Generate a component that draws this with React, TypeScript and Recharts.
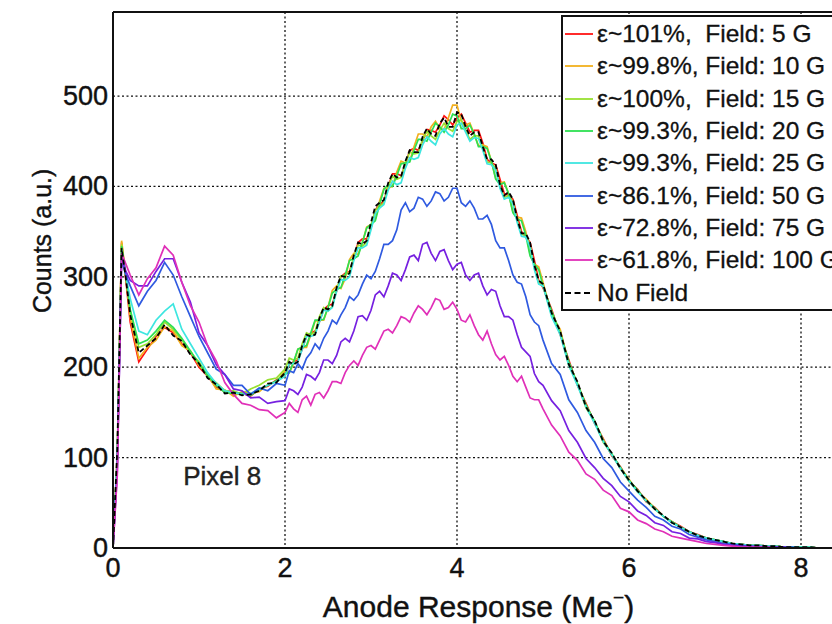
import React from 'react';
import { LineChart, Line, XAxis, YAxis, CartesianGrid, Legend, ReferenceDot, ReferenceLine, Label } from 'recharts';

const FONT = "'Liberation Sans', Arial, Helvetica, sans-serif";

// Anode response (Me-), main sampling
const xs = [
  0, 0.05, 0.1, 0.15, 0.2, 0.3, 0.4, 0.5, 0.6, 0.7,
  0.8, 0.9, 1.0, 1.1, 1.2, 1.3, 1.4, 1.5, 1.6, 1.7,
  1.8, 1.9, 2.0, 2.1, 2.2, 2.3, 2.4, 2.5, 2.6, 2.7,
  2.8, 2.9, 3.0, 3.1, 3.2, 3.3, 3.4, 3.5, 3.6, 3.7,
  3.8, 3.9, 4.0, 4.1, 4.2, 4.3, 4.4, 4.5, 4.6, 4.7,
  4.8, 4.9, 5.0, 5.1, 5.2, 5.3, 5.4, 5.5, 5.6, 5.7,
  5.8, 5.9, 6.0, 6.1, 6.2, 6.3, 6.4, 6.5, 6.6, 6.7,
  6.8, 6.9, 7.0, 7.1, 7.2, 7.3, 7.4, 7.5, 7.6, 7.7,
  7.8, 7.9, 8.0, 8.1, 8.2, 8.3, 8.4, 8.5,
];

// extra in-between samples across the main peak
const xsMid = [
  2.05, 2.15, 2.25, 2.35, 2.45, 2.55, 2.65, 2.75, 2.85, 2.95,
  3.05, 3.15, 3.25, 3.35, 3.45, 3.55, 3.65, 3.75, 3.85, 3.95,
  4.05, 4.15, 4.25, 4.35, 4.45, 4.55, 4.65, 4.75, 4.85, 4.95,
];

const field5 = [
  0, 100, 338, 296, 250, 206, 220, 234, 244, 238,
  226, 216, 200, 190, 178, 173, 170, 171, 168, 176,
  179, 186, 191, 206, 220, 238, 250, 268, 284, 304,
  320, 342, 354, 380, 400, 414, 424, 442, 450, 462,
  468, 474, 476, 470, 462, 448, 426, 408, 390, 368,
  344, 318, 288, 264, 236, 208, 180, 160, 138, 121,
  102, 90, 74, 65, 51, 45, 35, 29, 24, 18,
  15, 11, 9, 7, 5, 4, 3, 3, 2, 2,
  1, 1, 1, 1, 0, 0, 0, 0,
];
const field5Mid = [
  203, 208, 234, 240, 264, 270, 300, 306, 338, 342,
  374, 384, 414, 412, 440, 440, 463, 460, 478, 468,
  480, 460, 462, 430, 424, 392, 386, 350, 338, 296,
];

const field10 = [
  0, 105, 340, 300, 255, 210, 222, 230, 245, 240,
  224, 218, 202, 192, 176, 175, 168, 173, 171, 173,
  181, 184, 196, 204, 222, 236, 252, 266, 290, 298,
  326, 338, 358, 384, 398, 416, 426, 444, 458, 466,
  464, 476, 490, 468, 458, 446, 428, 404, 392, 366,
  350, 314, 294, 258, 242, 204, 182, 158, 139, 120,
  103, 89, 76, 62, 54, 44, 35, 29, 23, 18,
  14, 11, 9, 7, 5, 4, 3, 2, 2, 2,
  1, 1, 1, 0, 0, 0, 0, 0,
];
const field10Mid = [
  194, 220, 222, 251, 252, 285, 287, 319, 325, 355,
  364, 398, 400, 428, 428, 458, 455, 472, 463, 490,
  472, 470, 445, 444, 409, 405, 372, 365, 325, 311,
];

const field15 = [
  0, 95, 336, 302, 262, 222, 226, 236, 250, 242,
  230, 216, 206, 190, 183, 174, 174, 170, 176, 180,
  186, 188, 198, 208, 226, 236, 256, 262, 286, 302,
  322, 334, 356, 378, 400, 408, 426, 436, 452, 456,
  462, 464, 472, 462, 456, 442, 426, 400, 390, 362,
  346, 310, 290, 258, 238, 202, 182, 155, 140, 117,
  104, 88, 74, 63, 52, 43, 35, 28, 23, 18,
  14, 11, 9, 7, 5, 4, 3, 3, 2, 2,
  1, 1, 1, 1, 0, 0, 0, 0,
];
const field15Mid = [
  210, 210, 238, 239, 266, 267, 301, 305, 335, 338,
  374, 382, 411, 410, 438, 437, 461, 452, 470, 461,
  474, 452, 456, 427, 420, 388, 383, 347, 335, 293,
];

const field20 = [
  0, 100, 334, 300, 264, 226, 230, 240, 252, 244,
  232, 218, 204, 191, 180, 172, 171, 171, 169, 175,
  180, 185, 193, 206, 222, 238, 252, 266, 286, 302,
  320, 338, 358, 380, 402, 412, 426, 440, 452, 460,
  466, 468, 478, 464, 458, 444, 428, 402, 392, 364,
  346, 314, 290, 262, 238, 206, 182, 158, 140, 119,
  104, 89, 75, 64, 52, 44, 35, 29, 23, 18,
  14, 11, 9, 7, 5, 4, 3, 3, 2, 2,
  1, 1, 1, 1, 0, 0, 0, 0,
];
const field20Mid = [
  194, 220, 224, 252, 253, 282, 288, 318, 323, 354,
  362, 397, 400, 425, 427, 452, 450, 470, 460, 480,
  464, 468, 444, 442, 408, 404, 371, 362, 323, 308,
];

const field25 = [
  0, 100, 330, 302, 276, 240, 236, 252, 262, 270,
  242, 226, 210, 194, 182, 174, 172, 170, 171, 176,
  180, 184, 190, 204, 220, 234, 250, 262, 284, 296,
  318, 332, 352, 376, 396, 402, 420, 430, 446, 450,
  458, 458, 468, 460, 454, 440, 424, 398, 388, 360,
  344, 308, 290, 256, 236, 202, 180, 156, 138, 118,
  103, 88, 74, 62, 52, 43, 35, 28, 23, 18,
  14, 11, 9, 7, 5, 4, 3, 3, 2, 2,
  1, 1, 1, 1, 0, 0, 0, 0,
];
const field25Mid = [
  204, 206, 234, 236, 263, 266, 297, 300, 332, 335,
  370, 380, 406, 404, 432, 432, 455, 446, 464, 455,
  470, 450, 453, 425, 418, 386, 381, 345, 333, 292,
];

const field50 = [
  0, 90, 318, 302, 290, 268, 284, 296, 316, 302,
  278, 256, 234, 216, 198, 192, 180, 180, 170, 177,
  174, 182, 180, 194, 198, 216, 220, 240, 248, 266,
  274, 292, 298, 320, 336, 352, 382, 376, 386, 384,
  392, 388, 398, 378, 376, 364, 358, 332, 318, 294,
  278, 250, 230, 204, 192, 164, 150, 130, 117, 99,
  89, 73, 63, 53, 45, 35, 31, 24, 21, 15,
  12, 9, 7, 5, 4, 3, 2, 2, 1, 1,
  1, 1, 0, 0, 0, 0, 0, 0,
];
const field50Mid = [
  196, 204, 210, 226, 232, 252, 258, 278, 280, 302,
  306, 336, 340, 374, 372, 388, 378, 394, 384, 398,
  382, 384, 364, 368, 340, 332, 302, 292, 258, 246,
];

const field75 = [
  0, 85, 322, 306, 296, 290, 290, 306, 320, 320,
  294, 272, 238, 224, 203, 192, 176, 174, 166, 167,
  160, 162, 163, 174, 178, 190, 194, 208, 213, 232,
  240, 257, 263, 284, 290, 302, 308, 324, 336, 326,
  328, 318, 314, 302, 302, 290, 286, 268, 256, 236,
  217, 193, 180, 163, 152, 130, 117, 99, 89, 77,
  69, 57, 51, 41, 36, 28, 25, 18, 16, 11,
  10, 7, 6, 4, 3, 2, 2, 1, 1, 1,
  1, 0, 0, 0, 0, 0, 0, 0,
];
const field75Mid = [
  176, 170, 192, 186, 208, 204, 228, 228, 256, 252,
  280, 278, 304, 296, 322, 318, 338, 318, 330, 308,
  316, 296, 304, 280, 284, 256, 252, 222, 212, 184,
];

const field100 = [
  0, 80, 326, 314, 302, 280, 298, 310, 334, 324,
  294, 268, 250, 224, 207, 183, 170, 160, 158, 153,
  152, 144, 150, 154, 164, 158, 172, 174, 184, 194,
  207, 213, 224, 230, 242, 246, 254, 260, 264, 266,
  274, 266, 264, 250, 246, 230, 226, 208, 202, 184,
  178, 164, 154, 136, 124, 106, 97, 82, 76, 64,
  58, 44, 40, 31, 27, 21, 18, 13, 11, 9,
  7, 5, 4, 3, 2, 1, 1, 1, 1, 0,
  0, 0, 0, 0, 0, 0, 0, 0,
];
const field100Mid = [
  160, 150, 168, 170, 166, 184, 182, 202, 202, 222,
  220, 240, 238, 256, 250, 268, 258, 276, 264, 272,
  252, 258, 236, 240, 214, 212, 190, 190, 166, 164,
];

const noField = [
  0, 110, 332, 298, 258, 216, 224, 232, 247, 235,
  229, 214, 204, 188, 181, 171, 172, 169, 170, 174,
  182, 183, 194, 203, 224, 234, 254, 264, 288, 300,
  324, 336, 360, 382, 404, 410, 428, 438, 455, 458,
  470, 466, 482, 466, 460, 444, 430, 402, 394, 364,
  348, 313, 292, 260, 240, 203, 184, 156, 141, 118,
  105, 88, 75, 63, 53, 43, 36, 28, 23, 18,
  14, 11, 9, 7, 5, 4, 3, 3, 2, 2,
  1, 1, 1, 1, 0, 0, 0, 0,
];
const noFieldMid = [
  206, 206, 236, 236, 266, 268, 301, 304, 338, 340,
  378, 385, 414, 411, 440, 438, 464, 456, 476, 466,
  480, 456, 460, 430, 424, 390, 386, 348, 338, 296,
];

const xTicks = [0, 2, 4, 6, 8];
const yTicks = [0, 100, 200, 300, 400, 500];

const series = [
  { key: 'f5', name: 'ε~101%,  Field: 5 G', color: '#ff1414', values: field5, mids: field5Mid, dashed: false },
  { key: 'f10', name: 'ε~99.8%, Field: 10 G', color: '#f2b01e', values: field10, mids: field10Mid, dashed: false },
  { key: 'f15', name: 'ε~100%,  Field: 15 G', color: '#98e030', values: field15, mids: field15Mid, dashed: false },
  { key: 'f20', name: 'ε~99.3%, Field: 20 G', color: '#2ee052', values: field20, mids: field20Mid, dashed: false },
  { key: 'f25', name: 'ε~99.3%, Field: 25 G', color: '#3ee6e0', values: field25, mids: field25Mid, dashed: false },
  { key: 'f50', name: 'ε~86.1%, Field: 50 G', color: '#2f5ae0', values: field50, mids: field50Mid, dashed: false },
  { key: 'f75', name: 'ε~72.8%, Field: 75 G', color: '#7620e0', values: field75, mids: field75Mid, dashed: false },
  { key: 'f100', name: 'ε~61.8%, Field: 100 G', color: '#e030b8', values: field100, mids: field100Mid, dashed: false },
  { key: 'nf', name: 'No Field', color: '#000000', values: noField, mids: noFieldMid, dashed: true },
];

const mainRows = xs.map((x, i) => {
  const row: Record<string, number> = { x };
  series.forEach((s) => {
    row[s.key] = s.values[i];
  });
  return row;
});
const midRows = xsMid.map((x, i) => {
  const row: Record<string, number> = { x };
  series.forEach((s) => {
    row[s.key] = s.mids[i];
  });
  return row;
});
const data = [...mainRows, ...midRows].sort((a, b) => a.x - b.x);

const XTick = (props: any) => {
  const { x, y, payload } = props;
  return (
    <text x={x} y={y} dy={29} textAnchor="middle" fontSize={27} fill="#111" stroke="#111" strokeWidth={0.4} fontFamily={FONT}>
      {payload.value}
    </text>
  );
};

const YTick = (props: any) => {
  const { x, y, payload } = props;
  return (
    <text x={x} y={y} dy={9} textAnchor="end" fontSize={27} fill="#111" stroke="#111" strokeWidth={0.4} fontFamily={FONT}>
      {payload.value}
    </text>
  );
};

const LegendBox = () => (
  <div
    style={{
      border: '2px solid #111',
      background: '#fff',
      width: 300,
      boxSizing: 'border-box',
      paddingTop: 1,
      paddingBottom: 0,
      fontFamily: FONT,
    }}
  >
    {series.map((s) => (
      <div key={s.key} style={{ display: 'flex', alignItems: 'center', height: 32.3 }}>
        <svg width={34} height={10} style={{ flex: 'none' }}>
          <line
            x1={2}
            y1={5}
            x2={30}
            y2={5}
            stroke={s.color}
            strokeWidth={s.dashed ? 2 : 1.8}
            strokeDasharray={s.dashed ? '6 3.5' : undefined}
          />
        </svg>
        <span
          style={{
            fontSize: 24.5,
            color: '#111',
            whiteSpace: 'pre',
            lineHeight: '24px',
            WebkitTextStroke: '0.3px #111',
          }}
        >
          {s.name}
        </span>
      </div>
    ))}
  </div>
);

const XLabel = (props: any) => {
  const vb = props.viewBox || {};
  const cx = vb.x + vb.width / 2;
  return (
    <text x={cx} y={vb.y + 69} textAnchor="middle" fontSize={30} fill="#111" stroke="#111" strokeWidth={0.4} fontFamily={FONT}>
      Anode Response (Me
      <tspan fontSize={19} dy={-13}>−</tspan>
      <tspan dy={13}>)</tspan>
    </text>
  );
};

const YLabel = (props: any) => {
  const vb = props.viewBox || {};
  const cy = vb.y + vb.height * 0.427;
  const cx = 51;
  return (
    <text
      x={cx}
      y={cy}
      textAnchor="middle"
      fontSize={25}
      fill="#111"
      stroke="#111"
      strokeWidth={0.4}
      fontFamily={FONT}
      transform={`rotate(-90 ${cx} ${cy})`}
    >
      Counts (a.u.)
    </text>
  );
};

export default function App() {
  return (
    <div style={{ position: 'absolute', left: 0, top: 0, width: 832, height: 624, overflow: 'hidden', background: '#fff' }}>
      <LineChart width={844} height={624} data={data} margin={{ top: 12, right: 0, bottom: 0, left: 0 }}>
        <CartesianGrid stroke="#111" strokeDasharray="2 2.5" strokeWidth={1.3} />
        <XAxis
          dataKey="x"
          type="number"
          domain={[0, 8.5]}
          ticks={xTicks}
          height={76}
          tickSize={0}
          tickMargin={0}
          tickLine={false}
          axisLine={{ stroke: '#111', strokeWidth: 2 }}
          tick={<XTick />}
          interval={0}
        >
          <Label content={<XLabel />} />
        </XAxis>
        <YAxis
          type="number"
          domain={[0, 593]}
          ticks={yTicks}
          width={113}
          tickSize={0}
          tickMargin={5}
          tickLine={false}
          axisLine={{ stroke: '#111', strokeWidth: 2 }}
          tick={<YTick />}
          interval={0}
        >
          <Label content={<YLabel />} />
        </YAxis>
        <ReferenceLine y={593} stroke="#111" strokeWidth={2} />
        {series.map((s) => (
          <Line
            key={s.key}
            dataKey={s.key}
            name={s.name}
            type="linear"
            stroke={s.color}
            strokeWidth={s.dashed ? 1.8 : 1.7}
            strokeDasharray={s.dashed ? '5 3' : undefined}
            dot={false}
            activeDot={false}
            isAnimationActive={false}
          />
        ))}
        <ReferenceDot x={1.27} y={80} r={0} stroke="none" fill="none">
          <Label value="Pixel 8" position="center" fontSize={26} fill="#222" stroke="#222" strokeWidth={0.4} fontFamily={FONT} />
        </ReferenceDot>
        <Legend
          layout="vertical"
          align="center"
          verticalAlign="middle"
          content={<LegendBox />}
          wrapperStyle={{ position: 'absolute', left: 561, top: 15, width: 300, height: 294 }}
        />
      </LineChart>
    </div>
  );
}
